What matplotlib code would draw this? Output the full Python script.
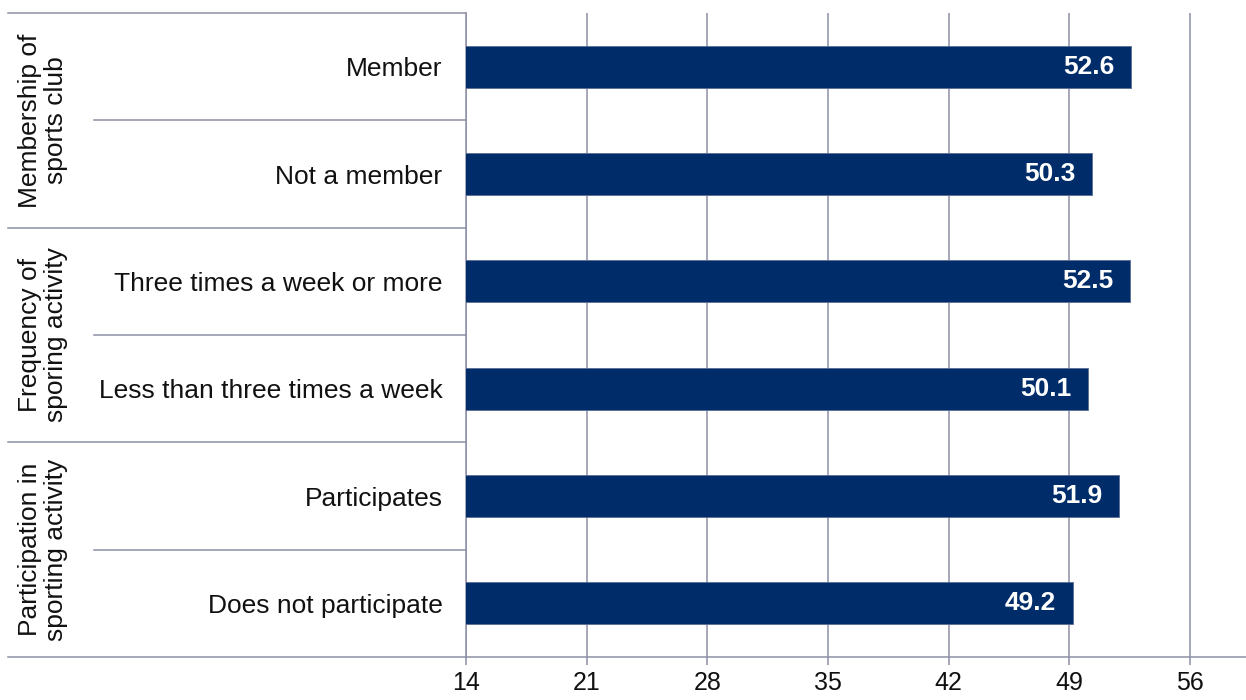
import matplotlib.pyplot as plt
import matplotlib.transforms as mtransforms

# Schriftart (Arial-ähnlich)
plt.rcParams['font.family'] = ['Liberation Sans', 'DejaVu Sans']
plt.rcParams['font.size'] = 19

# === DATEN ===
categories = ['Member', 'Not a member',
              'Three times a week or more', 'Less than three times a week',
              'Participates', 'Does not participate']
values = [52.6, 50.3, 52.5, 50.1, 51.9, 49.2]
groups = ['Membership of\nsports club',
          'Frequency of\nsporing activity',
          'Participation in\nsporting activity']
x_ticks = [14, 21, 28, 35, 42, 49, 56]

bar_color = '#002D6A'
line_color = '#8C8FA6'
text_color = '#111111'

W, H = 1246, 700
fig = plt.figure(figsize=(W / 100, H / 100), dpi=100)
ax = fig.add_axes([466 / W, 1 - 657 / H, 1 - 466 / W, (657 - 13) / H])

y = list(range(len(categories)))
ax.barh(y, values, left=0, height=0.39, color=bar_color,
        edgecolor='#5A6E96', linewidth=0.6, zorder=3)
ax.set_xlim(14, 14 + (W - 466) / 17.24)
ax.set_ylim(len(categories) - 0.5, -0.5)

# Werte in den Balken
for yi, v in zip(y, values):
    ax.annotate(f'{v:.1f}', xy=(v, yi), xytext=(-12, 0), textcoords='offset points',
                ha='right', va='center', color='white', fontweight='bold',
                fontsize=19, zorder=4)

# Achsen
ax.set_xticks(x_ticks)
ax.set_xticklabels([str(t) for t in x_ticks], color=text_color, fontsize=18)
ax.tick_params(axis='x', length=6, width=1.1, color=line_color, pad=4)
ax.set_yticks(y)
ax.set_yticklabels(categories, color=text_color)
ax.tick_params(axis='y', length=0, pad=17)
ax.grid(axis='x', color=line_color, linewidth=1.1, zorder=0)
for s in ['top', 'right']:
    ax.spines[s].set_visible(False)
for s in ['left', 'bottom']:
    ax.spines[s].set_color(line_color)
    ax.spines[s].set_linewidth(1.1)

# Tabellenlinien links
trans = mtransforms.blended_transform_factory(fig.transFigure, ax.transData)
for b in [-0.5, 1.5, 3.5, 5.5]:
    ax.plot([8 / W, 466 / W], [b, b], transform=trans, color=line_color,
            linewidth=1.1, clip_on=False)
for b in [0.5, 2.5, 4.5]:
    ax.plot([94 / W, 466 / W], [b, b], transform=trans, color=line_color,
            linewidth=1.1, clip_on=False)

# Gruppentitel
for k, g in enumerate(groups):
    ax.text(43 / W, 2 * k + 0.5, g, transform=trans, rotation=90,
            ha='center', va='center', multialignment='center',
            linespacing=1.15, color=text_color, fontsize=19)

fig.savefig('out.png', dpi=100)
